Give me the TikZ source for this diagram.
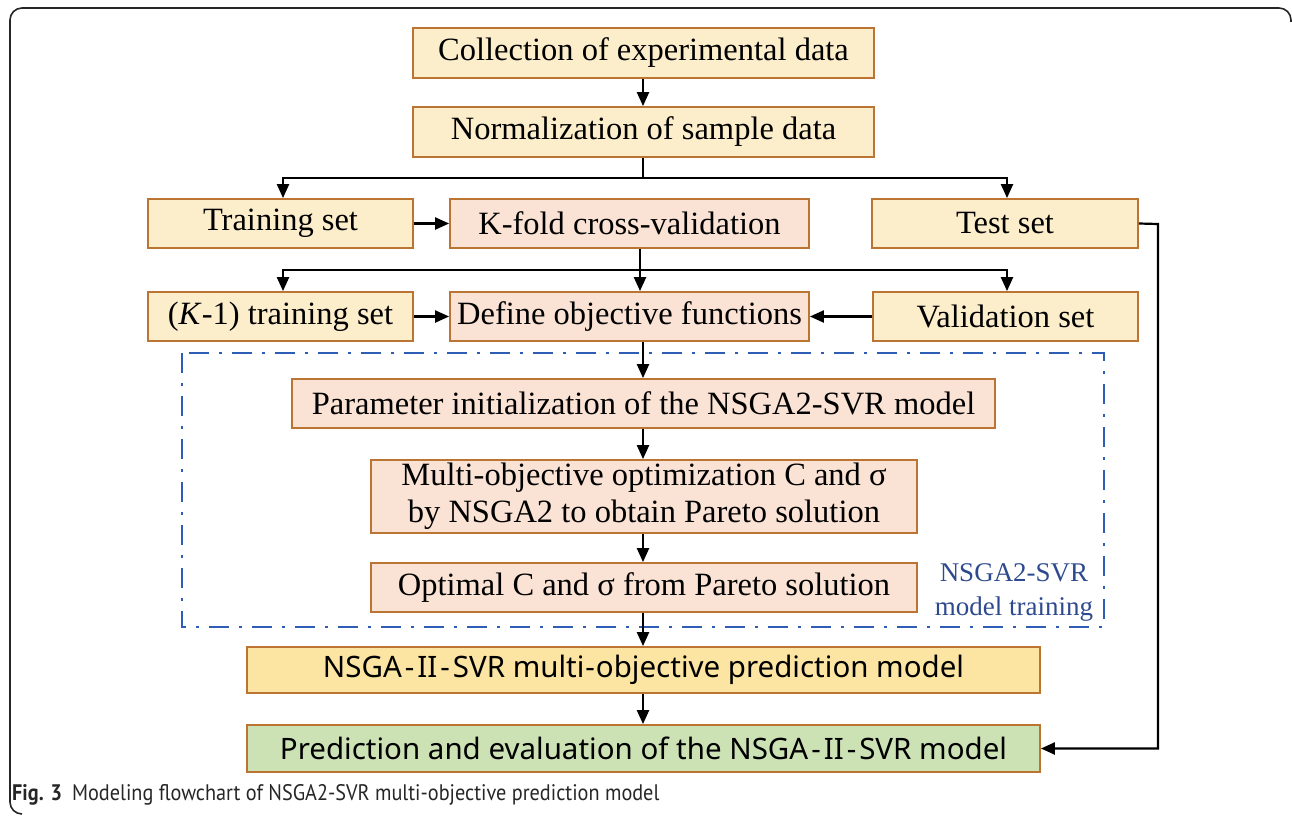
\documentclass[tikz,border=0pt]{standalone}
\usepackage{fontspec}
\setmainfont{Liberation Serif}
\newfontfamily\boxsans{Noto Sans}
\newfontfamily\capsans[FakeStretch=0.9]{PT Sans}
\usetikzlibrary{arrows.meta}

\definecolor{boxline}{HTML}{BC7432}
\definecolor{cream}{HTML}{FDEECB}
\definecolor{peach}{HTML}{FAE3D4}
\definecolor{gold}{HTML}{FCE4A2}
\definecolor{sage}{HTML}{CCE2B5}
\definecolor{frameblue}{HTML}{2D5DB5}
\definecolor{labelblue}{HTML}{2E4A8E}

\tikzset{
  x=1pt, y=-1pt,
  stagebox/.style={draw=boxline, line width=1.8pt, inner sep=0pt, align=center,
    font=\fontsize{32.5}{37}\selectfont},
  creambox/.style={stagebox, fill=cream},
  peachbox/.style={stagebox, fill=peach},
  flow/.style={line width=2.2pt, -{Triangle[length=14pt,width=12pt]}},
  plainline/.style={line width=2.2pt},
}
\newcommand{\hy}{\kern3pt-\kern3pt}

\begin{document}
\begin{tikzpicture}
\useasboundingbox (0,0) rectangle (1292,816);

% outer frame
\draw[line width=1.6pt, rounded corners=12pt, black!85]
  (22,814) -- (10,814) -- (10,8) -- (1291,8) -- (1291,22);

% data preparation
\node[creambox, minimum width=461pt, minimum height=50pt] (coll) at (643.5,53) {Collection of experimental data};
\node[creambox, minimum width=461pt, minimum height=50pt] (norm) at (643.5,132) {Normalization of sample data};

\node[creambox, minimum width=265pt, minimum height=49pt] (train) at (280.5,223.5) {Training set};
\node[peachbox, minimum width=359pt, minimum height=49pt] (kfold) at (629.5,223.5) {K-fold cross-validation};
\node[creambox, minimum width=266pt, minimum height=49pt] (test) at (1005,223.5) {Test set};

\node[creambox, minimum width=265pt, minimum height=49pt] (km1) at (280.5,316.5) {(\textit{K}-1) training set};
\node[peachbox, minimum width=359pt, minimum height=49pt] (defobj) at (629.5,316.5) {Define objective functions};
\node[creambox, minimum width=265pt, minimum height=49pt] (val) at (1005.5,316.5) {Validation set};

% training block
\draw[frameblue, line width=2.4pt, dash pattern=on 20pt off 10pt on 3pt off 10pt]
  (182,353) rectangle (1104,627);
\node[text=labelblue, align=center, font=\fontsize{27}{34}\selectfont] (trainlabel) at (1014,592)
  {NSGA2-SVR\\model training};

\node[peachbox, minimum width=703pt, minimum height=49pt] (param) at (643.5,403.5) {Parameter initialization of the NSGA2-SVR model};
\node[peachbox, minimum width=546pt, minimum height=73pt] (multi) at (644,496.5)
  {Multi-objective optimization C and σ\\by NSGA2 to obtain Pareto solution};
\node[peachbox, minimum width=546pt, minimum height=49pt] (optim) at (644,587.5) {Optimal C and σ from Pareto solution};

% resulting model
\node[stagebox, fill=gold, minimum width=793pt, minimum height=46pt, font=\boxsans\fontsize{29.5}{34}\selectfont] (model) at (643.5,670)
  {NSGA\hy II\hy SVR multi\kern1pt-\kern1pt objective prediction model};
\node[stagebox, fill=sage, minimum width=793pt, minimum height=47pt, font=\boxsans\fontsize{29.5}{34}\selectfont] (pred) at (643.5,748.5)
  {Prediction and evaluation of the NSGA\hy II\hy SVR model};

% connectors
\coordinate (split1) at (643,178);
\coordinate (split2) at (643,270);
\coordinate (testturn) at (1158,224);

\draw[flow] (coll.south -| split1) -- (norm.north -| split1);
\draw[plainline] (norm.south -| split1) -- (split1);
\draw[flow] (split1) -| (train.north -| 283,0);
\draw[flow] (split1) -| (test.north -| 1007,0);
\draw[flow] (train) -- (kfold);

\draw[flow] (kfold.south -| 640,0) -- (defobj.north -| 640,0);
\draw[flow] (split2) -| (km1.north -| 283,0);
\draw[flow] (split2) -| (val.north -| 1007,0);
\draw[flow] (km1) -- (defobj);
\draw[flow] (val) -- (defobj);

\draw[flow] (defobj.south -| split1) -- (param.north -| split1);
\draw[flow] (param.south -| split1) -- (multi.north -| split1);
\draw[flow] (multi.south -| split1) -- (optim.north -| split1);
\draw[flow] (optim.south -| split1) -- (model.north -| split1);
\draw[flow] (model.south -| split1) -- (pred.north -| split1);

\draw[flow] (test.east) -- (testturn) |- (pred.east);

% caption
\node[anchor=west, inner sep=0pt, font=\capsans\fontsize{22.5}{26}\selectfont, text=black!85] (caption) at (12,795)
  {\textbf{Fig. 3}\hspace{10pt}Modeling flowchart of NSGA2-SVR multi-objective prediction model};
\end{tikzpicture}
\end{document}
